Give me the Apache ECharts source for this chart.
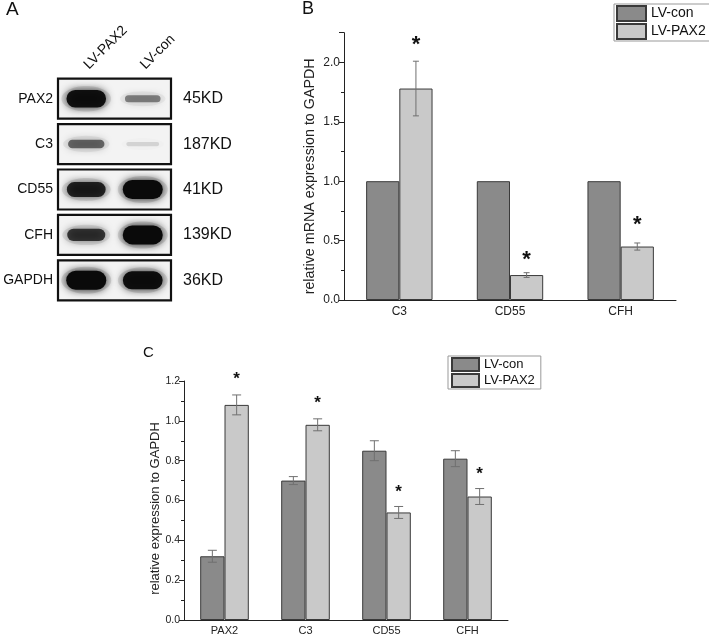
<!DOCTYPE html>
<html><head><meta charset="utf-8">
<script src="https://cdn.jsdelivr.net/npm/echarts@6/dist/echarts.min.js"></script>
<style>html,body{margin:0;padding:0;background:#fff}#c{width:709px;height:636px}</style>
</head><body><div id="c"></div>
<script>
// ---- Panel A: western blot ----
const lanes = ['LV-PAX2', 'LV-con'];
const proteins = ['PAX2', 'C3', 'CD55', 'CFH', 'GAPDH'];
const weights = ['45KD', '187KD', '41KD', '139KD', '36KD'];
const bandLvPax2 = [0.95, 0.55, 0.85, 0.75, 1.0];
const bandLvCon = [0.45, 0.12, 1.0, 1.0, 0.97];

// ---- Panel B: mRNA ----
const mrnaGenes = ['C3', 'CD55', 'CFH'];
const mrnaCon = [1, 1, 1];
const mrnaPax2 = [1.78, 0.21, 0.45];
const mrnaPax2Err = [0.23, 0.02, 0.03];
const mrnaStar = [2.15, 0.34, 0.63];

// ---- Panel C: protein ----
const protGenes = ['PAX2', 'C3', 'CD55', 'CFH'];
const protCon = [0.32, 0.70, 0.85, 0.81];
const protConErr = [0.03, 0.02, 0.05, 0.04];
const protPax2 = [1.08, 0.98, 0.54, 0.62];
const protPax2Err = [0.05, 0.03, 0.03, 0.04];
const protStar = [1.21, 1.09, 0.64, 0.73];

const FONT = 'Liberation Sans, Arial, sans-serif';
const DARK = '#8a8a8a', LIGHT = '#c9c9c9', EDGE = '#3a3a3a';

const chart = echarts.init(document.getElementById('c'));

function errRender(sign, capW) {
  return function (params, api) {
    const c = api.value(0), v = api.value(1), e = api.value(2);
    const band = api.size([1, 0])[0];
    const x = api.coord([c, v])[0] + sign * band * 0.15;
    const yT = api.coord([c, v + e])[1];
    const yB = api.coord([c, v - e])[1];
    const st = { stroke: '#707070', lineWidth: 1 };
    return { type: 'group', children: [
      { type: 'line', shape: { x1: x, y1: yT, x2: x, y2: yB }, style: st },
      { type: 'line', shape: { x1: x - capW / 2, y1: yT, x2: x + capW / 2, y2: yT }, style: st },
      { type: 'line', shape: { x1: x - capW / 2, y1: yB, x2: x + capW / 2, y2: yB }, style: st }
    ] };
  };
}
function starRender(size) {
  return function (params, api) {
    const c = api.value(0), v = api.value(1);
    const band = api.size([1, 0])[0];
    const p = api.coord([c, v]);
    return { type: 'text', x: p[0] + band * 0.15, y: p[1],
      style: { text: '*', font: 'bold ' + size + 'px ' + FONT, fill: '#111', align: 'center', verticalAlign: 'middle' } };
  };
}

const valueAxisCommon = {
  type: 'value', min: 0,
  axisLine: { show: true, lineStyle: { color: '#222', width: 1 } },
  axisTick: { show: true, length: 5, lineStyle: { color: '#222' } },
  minorTick: { show: true, splitNumber: 2, length: 3, lineStyle: { color: '#222' } },
  splitLine: { show: false },
  nameLocation: 'middle'
};

const option = {
  animation: false,
  textStyle: { fontFamily: FONT },
  title: [
    { text: 'A', left: 6, top: 0, padding: 0, textStyle: { fontSize: 19, fontWeight: 'normal', color: '#111', fontFamily: FONT } },
    { text: 'B', left: 302, top: 0, padding: 0, textStyle: { fontSize: 18, fontWeight: 'normal', color: '#111', fontFamily: FONT } },
    { text: 'C', left: 143, top: 345, padding: 0, textStyle: { fontSize: 15, fontWeight: 'normal', color: '#111', fontFamily: FONT } }
  ],
  legend: [
    { data: ['LV-con', 'LV-PAX2'], orient: 'vertical', left: 614, top: 4, icon: 'rect',
      itemWidth: 29, itemHeight: 15, itemGap: 1, padding: [1, 6, 1, 2], borderColor: '#999', borderWidth: 1,
      selectedMode: false, textStyle: { fontSize: 14, color: '#111', fontFamily: FONT } },
    { data: ['LV-con', 'LV-PAX2'], orient: 'vertical', left: 448, top: 356, icon: 'rect',
      itemWidth: 27, itemHeight: 13, itemGap: 1, padding: [1, 6, 1, 3], borderColor: '#999', borderWidth: 1,
      selectedMode: false, textStyle: { fontSize: 13, color: '#111', fontFamily: FONT } }
  ],
  grid: [
    { left: 58, top: 76, width: 113, height: 227 },
    { left: 344, top: 32.7, width: 332, height: 267.3 },
    { left: 184, top: 381, width: 324, height: 240.7 }
  ],
  xAxis: [
    { gridIndex: 0, type: 'category', data: lanes, position: 'top',
      axisLine: { show: false }, axisTick: { show: false },
      axisLabel: { rotate: -45, fontSize: 14, margin: 9, color: '#111' } },
    { gridIndex: 1, type: 'category', data: mrnaGenes,
      axisLine: { lineStyle: { color: '#222' } }, axisTick: { show: false },
      axisLabel: { fontSize: 12, margin: 6, color: '#222' } },
    { gridIndex: 2, type: 'category', data: protGenes,
      axisLine: { lineStyle: { color: '#222' } }, axisTick: { show: false },
      axisLabel: { fontSize: 11, margin: 5, color: '#222' } }
  ],
  yAxis: [
    { gridIndex: 0, type: 'category', data: proteins, inverse: true,
      axisLine: { show: false }, axisTick: { show: false },
      axisLabel: { fontSize: 14, margin: 5, color: '#111' } },
    { gridIndex: 0, type: 'category', data: weights, inverse: true, position: 'right',
      axisLine: { show: false }, axisTick: { show: false },
      axisLabel: { fontSize: 16, margin: 12, color: '#111' } },
    Object.assign({}, valueAxisCommon, { gridIndex: 1, max: 2.25, interval: 0.5,
      name: 'relative mRNA expression to GAPDH', nameGap: 27,
      nameTextStyle: { fontSize: 14.3, color: '#222', fontFamily: FONT, padding: [0, 20, 0, 0] },
      axisLabel: { fontSize: 12, color: '#222', margin: 4,
        formatter: v => (Math.abs(v - 2.25) < 1e-6 ? '' : v.toFixed(1)) } }),
    Object.assign({}, valueAxisCommon, { gridIndex: 2, max: 1.2, interval: 0.2,
      name: 'relative expression to GAPDH', nameGap: 21,
      nameTextStyle: { fontSize: 13, color: '#222', fontFamily: FONT, padding: [0, 16, 0, 0] },
      axisLabel: { fontSize: 10.5, color: '#222', margin: 4, formatter: v => v.toFixed(1) } })
  ],
  series: [
    // blot frames
    { type: 'custom', xAxisIndex: 0, yAxisIndex: 0, z: 2,
      data: proteins.map((p, i) => [0, i]),
      renderItem: function (params, api) {
        const cs = params.coordSys;
        const yc = api.coord([0, api.value(1)])[1];
        const h = api.size([0, 1])[1] * 0.88;
        return { type: 'rect', shape: { x: cs.x, y: yc - h / 2, width: cs.width, height: h },
          style: { fill: '#f3f3f3', stroke: '#111', lineWidth: 2.2 } };
      } },
    // blot bands
    { type: 'custom', xAxisIndex: 0, yAxisIndex: 0, z: 3,
      data: proteins.flatMap((p, i) => [[0, i, bandLvPax2[i]], [1, i, bandLvCon[i]]]),
      renderItem: function (params, api) {
        const p = api.coord([api.value(0), api.value(1)]);
        const I = api.value(2);
        const ry = 2 + 7.5 * I * I;
        const rx = 16 + 4 * I;
        return { type: 'group', children: [
          { type: 'ellipse', shape: { cx: p[0], cy: p[1], rx: rx + 5, ry: ry + 4 },
            style: { fill: 'rgba(0,0,0,' + (I * 0.10) + ')', shadowBlur: 8, shadowColor: 'rgba(0,0,0,' + (I * 0.15) + ')' } },
          { type: 'rect', shape: { x: p[0] - rx, y: p[1] - ry, width: 2 * rx, height: 2 * ry, r: ry },
            style: { fill: 'rgba(10,10,10,' + I + ')', shadowBlur: 9, shadowColor: 'rgba(0,0,0,' + (I * 0.9) + ')' } }
        ] };
      } },
    // panel B bars
    { name: 'LV-con', type: 'bar', xAxisIndex: 1, yAxisIndex: 2, data: mrnaCon,
      barWidth: '30%', barGap: '0%', itemStyle: { color: DARK, borderColor: EDGE, borderWidth: 1 } },
    { name: 'LV-PAX2', type: 'bar', xAxisIndex: 1, yAxisIndex: 2, data: mrnaPax2,
      barWidth: '30%', barGap: '0%', itemStyle: { color: LIGHT, borderColor: EDGE, borderWidth: 1 } },
    { type: 'custom', xAxisIndex: 1, yAxisIndex: 2, z: 5,
      data: mrnaGenes.map((g, i) => [i, mrnaPax2[i], mrnaPax2Err[i]]), renderItem: errRender(1, 6) },
    { type: 'custom', xAxisIndex: 1, yAxisIndex: 2, z: 5,
      data: mrnaGenes.map((g, i) => [i, mrnaStar[i]]), renderItem: starRender(22) },
    // panel C bars
    { name: 'LV-con', type: 'bar', xAxisIndex: 2, yAxisIndex: 3, data: protCon,
      barWidth: '30%', barGap: '0%', itemStyle: { color: DARK, borderColor: EDGE, borderWidth: 1 } },
    { name: 'LV-PAX2', type: 'bar', xAxisIndex: 2, yAxisIndex: 3, data: protPax2,
      barWidth: '30%', barGap: '0%', itemStyle: { color: LIGHT, borderColor: EDGE, borderWidth: 1 } },
    { type: 'custom', xAxisIndex: 2, yAxisIndex: 3, z: 5,
      data: protGenes.map((g, i) => [i, protCon[i], protConErr[i]]), renderItem: errRender(-1, 9) },
    { type: 'custom', xAxisIndex: 2, yAxisIndex: 3, z: 5,
      data: protGenes.map((g, i) => [i, protPax2[i], protPax2Err[i]]), renderItem: errRender(1, 9) },
    { type: 'custom', xAxisIndex: 2, yAxisIndex: 3, z: 5,
      data: protGenes.map((g, i) => [i, protStar[i]]), renderItem: starRender(17) }
  ]
};
chart.setOption(option);
</script></body></html>
